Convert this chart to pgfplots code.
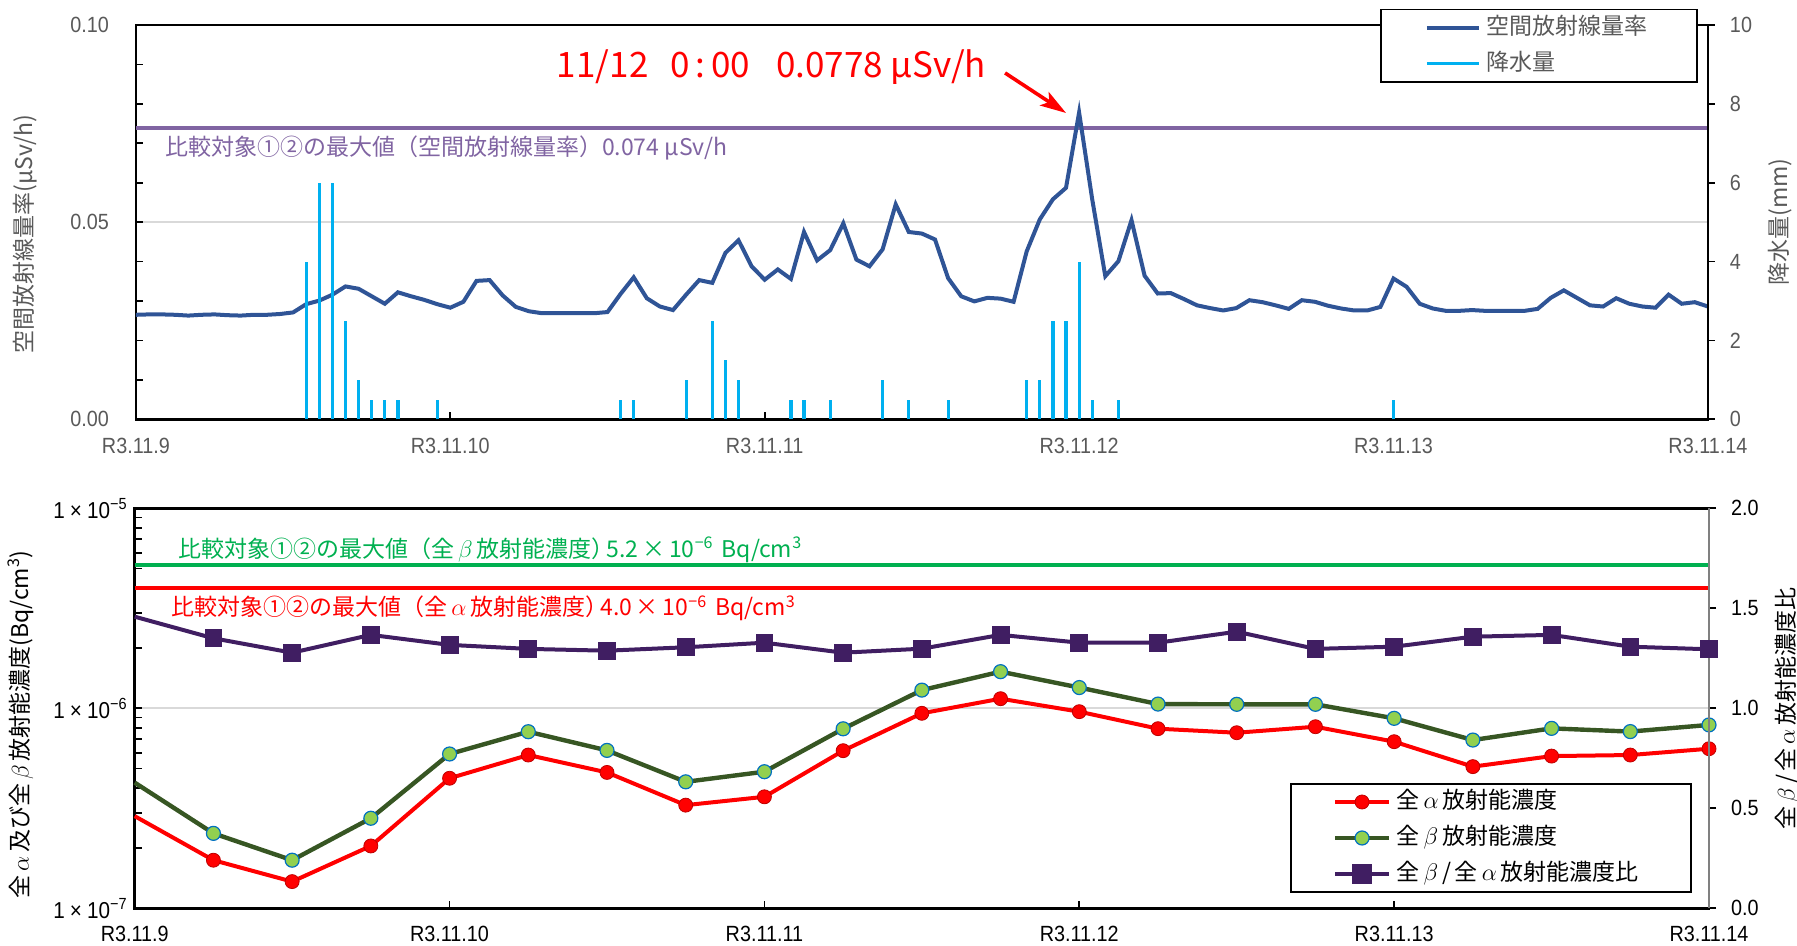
\documentclass[border=0pt]{standalone}
\usepackage{pgfplots}
\usepackage{pgfplotstable}
\pgfplotsset{compat=1.18}
\usepackage{fontspec}
\setmainfont{Noto Sans CJK JP}
\newfontfamily\tickfont{Liberation Sans}[FakeStretch=0.9]
\usetikzlibrary{arrows.meta}

\definecolor{dose}{RGB}{47,84,150}
\definecolor{rain}{RGB}{0,176,240}
\definecolor{thrp}{RGB}{128,100,162}
\definecolor{tgray}{RGB}{89,89,89}
\definecolor{gridc}{RGB}{217,217,217}
\definecolor{ared}{RGB}{255,0,0}
\definecolor{bline}{RGB}{55,86,35}
\definecolor{bfill}{RGB}{146,208,80}
\definecolor{bedge}{RGB}{0,112,192}
\definecolor{rpur}{RGB}{64,30,98}
\definecolor{gthr}{RGB}{0,176,80}
\definecolor{axgray}{RGB}{128,128,128}

\newcommand{\jp}{\fontsize{11.5}{13}\selectfont}
\newcommand{\tk}{\tickfont\fontsize{11}{13}\selectfont}

\pgfplotstableread{
h v
0 0.0265
1 0.0266
2 0.0266
3 0.0265
4 0.0263
5 0.0265
6 0.0266
7 0.0264
8 0.0263
9 0.0265
10 0.0265
11 0.0267
12 0.0271
13 0.0292
14 0.0301
15 0.0316
16 0.0337
17 0.0331
18 0.0312
19 0.0293
20 0.0322
21 0.0312
22 0.0303
23 0.0292
24 0.0283
25 0.0298
26 0.0351
27 0.0353
28 0.0314
29 0.0285
30 0.0274
31 0.0269
32 0.0269
33 0.0269
34 0.0269
35 0.0269
36 0.0272
37 0.0318
38 0.0360
39 0.0307
40 0.0286
41 0.0277
42 0.0316
43 0.0353
44 0.0346
45 0.0422
46 0.0454
47 0.0388
48 0.0354
49 0.0380
50 0.0356
51 0.0475
52 0.0403
53 0.0429
54 0.0497
55 0.0405
56 0.0388
57 0.0431
58 0.0545
59 0.0475
60 0.0471
61 0.0456
62 0.0358
63 0.0312
64 0.0299
65 0.0308
66 0.0306
67 0.0298
68 0.0426
69 0.0507
70 0.0558
71 0.0587
72 0.0778
73 0.0558
74 0.0363
75 0.0401
76 0.0505
77 0.0364
78 0.0319
79 0.0320
80 0.0305
81 0.0289
82 0.0282
83 0.0276
84 0.0282
85 0.0302
86 0.0297
87 0.0289
88 0.0280
89 0.0302
90 0.0298
91 0.0288
92 0.0281
93 0.0276
94 0.0276
95 0.0285
96 0.0357
97 0.0336
98 0.0293
99 0.0281
100 0.0275
101 0.0275
102 0.0277
103 0.0275
104 0.0275
105 0.0275
106 0.0275
107 0.0280
108 0.0308
109 0.0327
110 0.0308
111 0.0289
112 0.0286
113 0.0307
114 0.0293
115 0.0286
116 0.0283
117 0.0316
118 0.0293
119 0.0297
120 0.0286
}\doserate

\pgfplotstableread{
h p
13 4
14 6
15 6
16 2.5
17 1
18 0.5
19 0.5
20 0.5
23 0.5
37 0.5
38 0.5
42 1
44 2.5
45 1.5
46 1
50 0.5
51 0.5
53 0.5
57 1
59 0.5
62 0.5
68 1
69 1
70 2.5
71 2.5
72 4
73 0.5
75 0.5
96 0.5
}\raindata

\pgfplotstableread{
h a b r
0 2.89e-7 4.25e-7 1.458
6 1.74e-7 2.37e-7 1.350
12 1.36e-7 1.74e-7 1.278
18 2.05e-7 2.82e-7 1.367
24 4.47e-7 5.91e-7 1.317
30 5.84e-7 7.64e-7 1.297
36 4.78e-7 6.16e-7 1.288
42 3.28e-7 4.29e-7 1.305
48 3.61e-7 4.82e-7 1.328
54 6.14e-7 7.90e-7 1.278
60 9.44e-7 1.233e-6 1.298
66 1.117e-6 1.525e-6 1.367
72 9.62e-7 1.27e-6 1.328
78 7.91e-7 1.05e-6 1.328
84 7.55e-7 1.047e-6 1.383
90 8.09e-7 1.047e-6 1.297
96 6.81e-7 8.91e-7 1.308
102 5.11e-7 6.94e-7 1.358
108 5.77e-7 7.94e-7 1.367
114 5.84e-7 7.65e-7 1.308
120 6.28e-7 8.26e-7 1.295
}\conc

\pgfplotsset{
  alphastyle/.style={ared, line width=2pt},
  alphamark/.style={mark=*, mark size=3.5pt, mark options={fill=ared, draw=red!75!black, line width=0.4pt, solid}},
  betastyle/.style={bline, line width=2.2pt},
  betamark/.style={mark=*, mark size=3.5pt, mark options={fill=bfill, draw=bedge, line width=0.6pt, solid}},
  ratiostyle/.style={rpur, line width=2pt},
  ratiomark/.style={mark=square*, mark size=4.2pt, mark options={fill=rpur, draw=rpur, solid}},
}

\begin{document}
\begin{tikzpicture}
\path[use as bounding box] (0pt,0pt) rectangle (898.5pt,473pt);

% ===== top chart, left axis =====
\begin{axis}[
  at={(67.95pt,263.35pt)}, anchor=south west,
  scale only axis, width=786pt, height=197.15pt,
  xmin=0, xmax=120, ymin=0, ymax=0.1,
  xtick={0,24,48,72,96,120},
  xticklabels={R3.11.9,R3.11.10,R3.11.11,R3.11.12,R3.11.13,R3.11.14},
  ytick={0,0.05,0.1}, yticklabels={0.00,0.05,0.10},
  minor ytick={0.01,0.02,0.03,0.04,0.06,0.07,0.08,0.09},
  xtick pos=bottom, ytick pos=left, tick align=inside,
  major tick length=3.5pt, minor tick length=3.5pt,
  ymajorgrids, grid style={gridc, line width=1pt},
  axis line style={line width=1.4pt},
  tick style={black, line width=0.9pt},
  tick label style={font=\tk, text=tgray},
  xticklabel style={yshift=-6pt},
  yticklabel style={xshift=-10pt},
  ylabel={空間放射線量率(μSv/h)},
  ylabel style={at={(axis description cs:-0.0706,0.47)}, anchor=center, font=\jp, text=tgray},
  legend style={at={(0.9934,1.0406)}, anchor=north east, draw=black, line width=0.7pt, fill=white,
    inner xsep=22pt, inner ysep=1.3pt, row sep=2.5pt,
    nodes={inner xsep=3pt, inner ysep=2pt, text height=9pt, text depth=2.5pt, font=\jp, text=tgray}},
  legend cell align=left,
  legend image code/.code={\draw[#1] (0pt,0pt) -- (26pt,0pt);},
]
\addplot[thrp, line width=2pt, forget plot] coordinates {(0,0.074) (120,0.074)};
\addplot[dose, line width=2pt] table[x=h,y=v] {\doserate};
\addlegendentry{\makebox[80pt][l]{空間放射線量率}}
\addlegendimage{rain, line width=1.6pt}
\addlegendentry{\makebox[80pt][l]{降水量}}
\node[anchor=west, font=\jp, text=thrp, inner sep=0pt] at (rel axis cs:0.0183,0.6888)
  {比較対象①②の最大値（空間放射線量率）0.074 μSv/h};
\node[anchor=east, font=\fontsize{17.5}{20}\selectfont, text=ared, inner sep=0pt] at (rel axis cs:0.5411,0.8935)
  {1\kern0.5pt1/12\hspace{11pt}0\,:\,00\hspace{13pt}0.0778 μSv/h};
\draw[ared, line width=1.8pt, -{Stealth[length=13pt, width=8pt, inset=3pt]}]
  (rel axis cs:0.5529,0.8783) -- (rel axis cs:0.5917,0.7768);
\end{axis}

% ===== top chart, right axis =====
\begin{axis}[
  at={(67.95pt,263.35pt)}, anchor=south west,
  scale only axis, width=786pt, height=197.15pt,
  xmin=0, xmax=120, ymin=0, ymax=10,
  axis x line=none, axis y line*=right,
  ytick={0,2,4,6,8,10}, yticklabels={0,2,4,6,8,10},
  tick align=outside, major tick length=3.5pt,
  axis line style={line width=1.4pt},
  tick style={black, line width=0.9pt},
  tick label style={font=\tk, text=tgray},
  yticklabel style={xshift=4pt},
  ylabel={降水量(mm)},
  ylabel style={at={(axis description cs:1.0459,0.5)}, anchor=center, font=\jp, text=tgray},
]
\addplot[ycomb, rain, line width=1.6pt] table[x=h,y=p] {\raindata};
\end{axis}

% ===== bottom chart, left log axis =====
\begin{axis}[
  at={(67.35pt,18.85pt)}, anchor=south west,
  scale only axis, width=787.15pt, height=200pt,
  xmin=0, xmax=120, ymode=log, ymin=1e-7, ymax=1e-5,
  xtick={0,24,48,72,96,120},
  xticklabels={R3.11.9,R3.11.10,R3.11.11,R3.11.12,R3.11.13,R3.11.14},
  ytick={1e-7,1e-6,1e-5},
  yticklabels={1\hspace{2.5pt}×\hspace{2.5pt}10\textsuperscript{−7},1\hspace{2.5pt}×\hspace{2.5pt}10\textsuperscript{−6},1\hspace{2.5pt}×\hspace{2.5pt}10\textsuperscript{−5}},
  minor ytick={2e-7,3e-7,4e-7,5e-7,6e-7,7e-7,8e-7,9e-7,2e-6,3e-6,4e-6,5e-6,6e-6,7e-6,8e-6,9e-6},
  xtick pos=bottom, ytick pos=left, tick align=inside,
  major tick length=3.5pt, minor tick length=3.5pt,
  ymajorgrids, grid style={gridc, line width=1pt},
  axis line style={line width=1.4pt},
  tick style={black, line width=0.9pt},
  tick label style={font=\tk, text=black},
  yticklabel style={font=\tickfont\fontsize{11.5}{13}\selectfont},
  xticklabel style={yshift=-5.5pt},
  ylabel={全\,$\alpha$\,及び全\,$\beta$\,放射能濃度(Bq/cm\textsuperscript{3})},
  ylabel style={at={(axis description cs:-0.0722,0.46)}, anchor=center, font=\jp, text=black},
  clip=false,
]
\addplot[gthr, line width=1.75pt, forget plot] coordinates {(0,5.2e-6) (120,5.2e-6)};
\addplot[ared, line width=1.75pt, forget plot] coordinates {(0,4.0e-6) (120,4.0e-6)};
\addplot[alphastyle, no markers] table[x=h,y=a] {\conc};
\addplot[betastyle, no markers] table[x=h,y=b] {\conc};
\addplot[only marks, alphamark, skip coords between index={0}{1}] table[x=h,y=a] {\conc};
\addplot[only marks, betamark, skip coords between index={0}{1}] table[x=h,y=b] {\conc};
\node[anchor=west, font=\jp, text=gthr, inner sep=0pt] at (rel axis cs:0.0275,0.8958)
  {比較対象①②の最大値（全\,$\beta$\,放射能濃度）\kern-4pt5.2\,×\,10\textsuperscript{−6}\hspace{4pt}Bq/cm\textsuperscript{3}};
\node[anchor=west, font=\jp, text=ared, inner sep=0pt] at (rel axis cs:0.0231,0.75)
  {比較対象①②の最大値（全\,$\alpha$\,放射能濃度）\kern-4pt4.0\,×\,10\textsuperscript{−6}\hspace{4pt}Bq/cm\textsuperscript{3}};
\end{axis}

% ===== bottom chart, right ratio axis =====
\begin{axis}[
  at={(67.35pt,18.85pt)}, anchor=south west,
  scale only axis, width=787.15pt, height=200pt,
  xmin=0, xmax=120, ymin=0, ymax=2,
  axis x line=none, axis y line*=right,
  ytick={0,0.5,1,1.5,2}, yticklabels={0.0,0.5,1.0,1.5,2.0},
  tick align=outside, major tick length=3.5pt,
  axis line style={line width=1.4pt, axgray},
  tick style={black, line width=0.9pt},
  tick label style={font=\tk, text=black},
  yticklabel style={xshift=4pt},
  ylabel={全\,$\beta$\,/\,全\,$\alpha$\,放射能濃度比},
  ylabel style={at={(axis description cs:1.0497,0.5)}, anchor=center, font=\jp, text=black},
  clip=false,
  legend style={at={(0.9891,0.0375)}, anchor=south east, draw=black, line width=1pt, fill=white,
    inner xsep=21pt, inner ysep=1.4pt, row sep=2.5pt,
    nodes={inner xsep=3pt, inner ysep=2pt, text height=9pt, text depth=2.5pt, font=\jp, text=black}},
  legend cell align=left,
  legend image code/.code={\draw[mark repeat=2,mark phase=2,#1] plot coordinates {(0pt,0pt) (13.3pt,0pt) (26.6pt,0pt)};},
]
\addlegendimage{alphastyle, alphamark}
\addlegendentry{\makebox[123pt][l]{全\,$\alpha$\,放射能濃度}}
\addlegendimage{betastyle, betamark}
\addlegendentry{\makebox[123pt][l]{全\,$\beta$\,放射能濃度}}
\addlegendimage{ratiostyle, ratiomark}
\addlegendentry{\makebox[123pt][l]{全\,$\beta$\,/\,全\,$\alpha$\,放射能濃度比}}
\addplot[ratiostyle, no markers, forget plot] table[x=h,y=r] {\conc};
\addplot[only marks, ratiomark, skip coords between index={0}{1}, forget plot] table[x=h,y=r] {\conc};
\end{axis}
\end{tikzpicture}
\end{document}
